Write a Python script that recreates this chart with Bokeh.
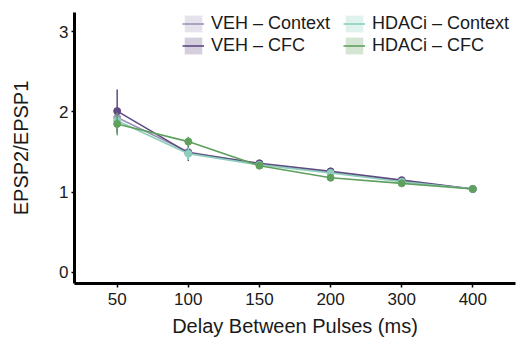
from bokeh.plotting import figure
from bokeh.models import FactorRange, Range1d, FixedTicker, Legend, LegendItem
from bokeh.embed import file_html
from bokeh.resources import INLINE

delays = ["50", "100", "150", "200", "300", "400"]

series_names = ["VEH \u2013 Context", "VEH \u2013 CFC", "HDACi \u2013 Context", "HDACi \u2013 CFC"]
veh_ctx = [1.93, 1.50, 1.35, 1.25, 1.14, 1.04]
veh_cfc = [2.01, 1.49, 1.36, 1.26, 1.15, 1.04]
hdac_ctx = [1.89, 1.48, 1.34, 1.24, 1.13, 1.04]
hdac_cfc = [1.85, 1.63, 1.33, 1.18, 1.11, 1.04]

veh_ctx_err = [0.10, 0.05, 0.03, 0.03, 0.02, 0.02]
veh_cfc_err = [0.27, 0.10, 0.04, 0.03, 0.03, 0.02]
hdac_ctx_err = [0.08, 0.08, 0.03, 0.03, 0.02, 0.02]
hdac_cfc_err = [0.14, 0.06, 0.04, 0.04, 0.03, 0.02]

colors = ["#9e94b8", "#5f4b82", "#8ccfbc", "#5fa05f"]
means = [veh_ctx, veh_cfc, hdac_ctx, hdac_cfc]
errs = [veh_ctx_err, veh_cfc_err, hdac_ctx_err, hdac_cfc_err]

FONT = "Liberation Sans"

p = figure(
    width=526, height=343,
    x_range=FactorRange(*delays, range_padding=0.1, range_padding_units="absolute"),
    y_range=Range1d(-0.137, 3.238),
    output_backend="svg", toolbar_location=None,
    min_border_left=74, min_border_right=11, min_border_top=12, min_border_bottom=60,
)
p.outline_line_color = None
p.xgrid.visible = False
p.ygrid.visible = False
p.background_fill_color = "white"
p.border_fill_color = "white"

# axes
p.yaxis.ticker = FixedTicker(ticks=[0, 1, 2, 3])
for ax in (p.xaxis[0], p.yaxis[0]):
    ax.axis_line_width = 3
    ax.axis_line_color = "black"
    ax.major_tick_line_color = "black"
    ax.major_tick_line_width = 1.5
    ax.minor_tick_line_color = None
    ax.major_tick_in = 0
    ax.major_label_text_font = FONT
    ax.major_label_text_font_size = "17px"
    ax.major_label_text_color = "#1a1a1a"
    ax.axis_label_text_font = FONT
    ax.axis_label_text_font_size = "20px"
    ax.axis_label_text_font_style = "normal"
    ax.axis_label_text_color = "#1a1a1a"
p.xaxis.major_tick_out = 4
p.yaxis.major_tick_out = 3
p.xaxis.major_label_standoff = 5
p.yaxis.major_label_standoff = 3
p.xaxis.axis_label = "Delay Between Pulses (ms)"
p.yaxis.axis_label = "EPSP2/EPSP1"
p.xaxis.axis_label_standoff = 7
p.yaxis.axis_label_standoff = 24

items = []
for name, c, m, e in zip(series_names, colors, means, errs):
    lo = [a - b for a, b in zip(m, e)]
    hi = [a + b for a, b in zip(m, e)]
    band = p.varea(x=delays, y1=m, y2=m, fill_color=c, fill_alpha=0.27)
    p.segment(x0=delays, y0=lo, x1=delays, y1=hi, line_color=c, line_width=1.5)
    ln = p.line(x=delays, y=m, line_color=c, line_width=1.6)
    p.scatter(x=delays, y=m, size=7, fill_color=c, line_color=c)
    items.append(LegendItem(label=name, renderers=[band, ln]))

legend = Legend(
    items=items, location=(108, 227), nrows=2,
    label_text_font=FONT, label_text_font_size="18px", label_text_color="#1a1a1a",
    glyph_width=22, glyph_height=21, label_height=21, label_width=131,
    label_standoff=7, spacing=1, padding=0, margin=0,
    background_fill_alpha=0, border_line_color=None,
)
p.add_layout(legend, "center")

open("out.html", "w").write(file_html(p, INLINE))
